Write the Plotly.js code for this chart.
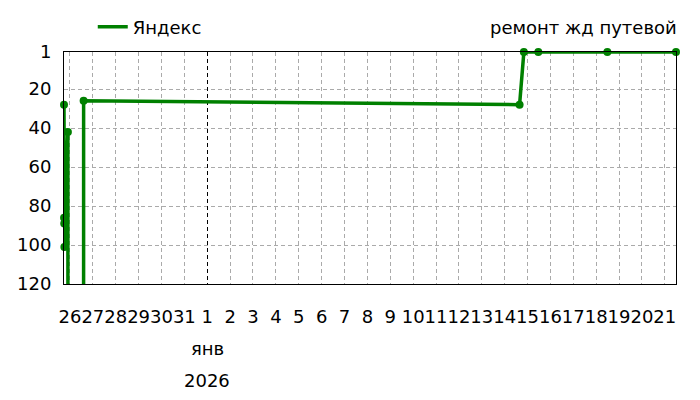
<!DOCTYPE html>
<html>
<head>
<meta charset="utf-8">
<script src="https://cdn.plot.ly/plotly-3.0.1.min.js"></script>
<style>html,body{margin:0;padding:0;background:#fff}#chart{width:700px;height:400px}</style>
</head>
<body>
<div id="chart"></div>
<script>
var seriesName = 'Яндекс';
var checkTimes = [
  '2025-12-25 17:45', '2025-12-25 17:50', '2025-12-25 18:00', '2025-12-25 18:10',
  '2025-12-25 21:50', '2025-12-25 22:10', '2025-12-26 14:10', '2025-12-26 14:20',
  '2026-01-14 15:40', '2026-01-14 20:10', '2026-01-15 11:20', '2026-01-18 11:45',
  '2026-01-21 11:45'
];
var positions = [28, 86, 89, 101, 42, 1000, 1000, 26, 28, 1, 1, 1, 1];
var yTicks = [1, 20, 40, 60, 80, 100, 120];
var tickDates = [
  '2025-12-26', '2025-12-27', '2025-12-28', '2025-12-29', '2025-12-30', '2025-12-31',
  '2026-01-01', '2026-01-02', '2026-01-03', '2026-01-04', '2026-01-05', '2026-01-06',
  '2026-01-07', '2026-01-08', '2026-01-09', '2026-01-10', '2026-01-11', '2026-01-12',
  '2026-01-13', '2026-01-14', '2026-01-15', '2026-01-16', '2026-01-17', '2026-01-18',
  '2026-01-19', '2026-01-20', '2026-01-21'
];
var tickLabels = ['26', '27', '28', '29', '30', '31', '1', '2', '3', '4', '5', '6', '7', '8', '9',
  '10', '11', '12', '13', '14', '15', '16', '17', '18', '19', '20', '21'];
var yearStart = '2026-01-01';
var monthLabel = 'янв';
var yearLabel = '2026';
var noteText = 'ремонт жд путевой';

var green = '#008000';
var font = {family: 'DejaVu Sans, Verdana, sans-serif', size: 18, color: '#000'};
var dash = '4px,3px';
var xRange = [checkTimes[0], checkTimes[checkTimes.length - 1]];

var traces = [
  {x: checkTimes, y: positions, type: 'scatter', mode: 'lines', name: seriesName,
   line: {color: green, width: 3.5}, showlegend: true},
  {x: checkTimes, y: positions, type: 'scatter', mode: 'markers', name: seriesName,
   xaxis: 'x2', yaxis: 'y',
   marker: {color: green, size: 8}, showlegend: false, cliponaxis: false}
];

var layout = {
  width: 700, height: 400,
  margin: {l: 64, r: 24, t: 52, b: 116, autoexpand: false},
  paper_bgcolor: '#fff', plot_bgcolor: '#fff',
  font: font,
  showlegend: true,
  legend: {x: 0.047, xanchor: 'left', y: 1.108, yanchor: 'middle', font: font,
           bgcolor: 'rgba(0,0,0,0)', borderwidth: 0, orientation: 'h'},
  xaxis: {
    type: 'date',
    range: xRange,
    tickmode: 'array', tickvals: tickDates, ticktext: tickLabels, tickangle: 0,
    showgrid: true, gridcolor: '#aaaaaa', griddash: dash, gridwidth: 1,
    showline: true, linecolor: '#000', linewidth: 1, mirror: true,
    ticks: '', zeroline: false, ticklabelstandoff: 16,
    tickfont: font
  },
  xaxis2: {
    type: 'date', overlaying: 'x', anchor: 'y', side: 'bottom',
    range: xRange,
    tickmode: 'array', tickvals: [yearStart],
    showgrid: true, gridcolor: '#000000', griddash: dash, gridwidth: 1,
    showticklabels: false, showline: false, ticks: '', zeroline: false
  },
  yaxis: {
    range: [120, 1],
    tickmode: 'array', tickvals: yTicks, ticktext: yTicks.map(String),
    showgrid: true, gridcolor: '#aaaaaa', griddash: dash, gridwidth: 1,
    showline: true, linecolor: '#000', linewidth: 1, mirror: true,
    ticks: '', zeroline: false, ticklabelstandoff: 8,
    tickfont: font
  },
  annotations: [
    {text: noteText, xref: 'paper', yref: 'paper', x: 1, xanchor: 'right', xshift: 3, y: 1.105, yanchor: 'middle',
     showarrow: false, font: font},
    {text: monthLabel, xref: 'x', yref: 'paper', x: yearStart, xanchor: 'center', y: -0.28, yanchor: 'middle',
     showarrow: false, font: font},
    {text: yearLabel, xref: 'x', yref: 'paper', x: yearStart, xanchor: 'center', y: -0.418, yanchor: 'middle',
     showarrow: false, font: font}
  ]
};

Plotly.newPlot('chart', traces, layout, {displayModeBar: false, staticPlot: true});
</script>
</body>
</html>
